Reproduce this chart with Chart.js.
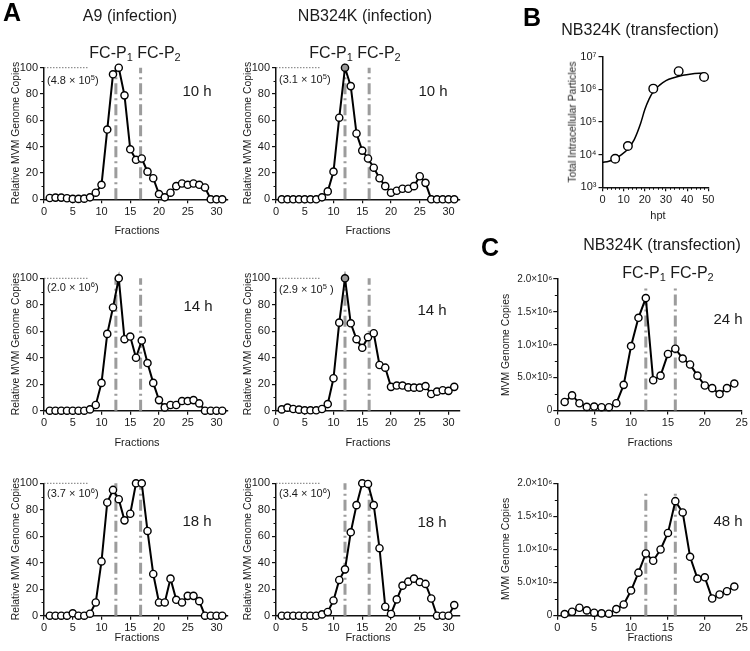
<!DOCTYPE html>
<html>
<head>
<meta charset="utf-8">
<script src="https://cdn.jsdelivr.net/npm/chart.js@4.4.1/dist/chart.umd.min.js"></script>
<style>
  body { margin: 0; background: #fff; }
  #fig { position: relative; width: 750px; height: 651px; overflow: hidden;
         font-family: 'Liberation Sans', Arial, sans-serif; color: #1a1a1a; }
  #fig canvas { position: absolute; left: 0; top: 0; }
  .t { position: absolute; white-space: nowrap; transform: translate(-50%, -50%); line-height: 1; }
  .l { position: absolute; white-space: nowrap; transform: translate(0, -50%); line-height: 1; font-size: 11px; }
  .yt { font-size: 10.4px; transform: translate(-50%, -50%) rotate(-90deg); }
  .title { font-size: 16px; }
  .fc { font-size: 16px; }
  .hr { font-size: 15px; }
  .xt { font-size: 11px; }
  .letter { font-size: 25px; font-weight: bold; color: #000; }
  sub { font-size: 11px; vertical-align: -3px; line-height: 0; }
  sup { font-size: 7.5px; vertical-align: 4px; line-height: 0; }
</style>
</head>
<body>
<div id="fig">
  <canvas id="a1" width="750" height="651"></canvas>
  <canvas id="a2" width="750" height="651"></canvas>
  <canvas id="a3" width="750" height="651"></canvas>
  <canvas id="a4" width="750" height="651"></canvas>
  <canvas id="a5" width="750" height="651"></canvas>
  <canvas id="a6" width="750" height="651"></canvas>
  <canvas id="b1" width="750" height="651"></canvas>
  <canvas id="c1" width="750" height="651"></canvas>
  <canvas id="c2" width="750" height="651"></canvas>

  <div class="t letter" style="left:12px;top:12px">A</div>
  <div class="t letter" style="left:532px;top:17px">B</div>
  <div class="t letter" style="left:490px;top:247px">C</div>

  <div class="t title" style="left:130px;top:16px">A9 (infection)</div>
  <div class="t title" style="left:365px;top:16px">NB324K (infection)</div>
  <div class="t title" style="left:640px;top:30px">NB324K (transfection)</div>
  <div class="t title" style="left:662px;top:245px">NB324K (transfection)</div>

  <div class="t fc" style="left:135px;top:53px">FC-P<sub>1</sub> FC-P<sub>2</sub></div>
  <div class="t fc" style="left:355px;top:53px">FC-P<sub>1</sub> FC-P<sub>2</sub></div>
  <div class="t fc" style="left:668px;top:273px">FC-P<sub>1</sub> FC-P<sub>2</sub></div>

  <div class="t hr" style="left:197px;top:90px">10 h</div>
  <div class="t hr" style="left:433px;top:90px">10 h</div>
  <div class="t hr" style="left:198px;top:305px">14 h</div>
  <div class="t hr" style="left:432px;top:309px">14 h</div>
  <div class="t hr" style="left:197px;top:520px">18 h</div>
  <div class="t hr" style="left:432px;top:521px">18 h</div>
  <div class="t hr" style="left:728px;top:318px">24 h</div>
  <div class="t hr" style="left:728px;top:520px">48 h</div>

  <div class="l" style="left:47px;top:80px">(4.8 × 10<sup>5</sup>)</div>
  <div class="l" style="left:279px;top:79px">(3.1 × 10<sup>5</sup>)</div>
  <div class="l" style="left:47px;top:287px">(2.0 × 10<sup>6</sup>)</div>
  <div class="l" style="left:279px;top:289px">(2.9 × 10<sup>5</sup> )</div>
  <div class="l" style="left:47px;top:493px">(3.7 × 10<sup>6</sup>)</div>
  <div class="l" style="left:279px;top:493px">(3.4 × 10<sup>6</sup>)</div>

  <div class="t yt" style="left:16px;top:133px">Relative MVM Genome Copies</div>
  <div class="t yt" style="left:248px;top:133px">Relative MVM Genome Copies</div>
  <div class="t yt" style="left:16px;top:344px">Relative MVM Genome Copies</div>
  <div class="t yt" style="left:248px;top:344px">Relative MVM Genome Copies</div>
  <div class="t yt" style="left:16px;top:549px">Relative MVM Genome Copies</div>
  <div class="t yt" style="left:248px;top:549px">Relative MVM Genome Copies</div>
  <div class="t yt" style="left:573px;top:122px">Total Intracellular Particles</div>
  <div class="t yt" style="left:506px;top:345px">MVM Genome Copies</div>
  <div class="t yt" style="left:506px;top:549px">MVM Genome Copies</div>

  <div class="t xt" style="left:137px;top:230px">Fractions</div>
  <div class="t xt" style="left:368px;top:230px">Fractions</div>
  <div class="t xt" style="left:137px;top:442px">Fractions</div>
  <div class="t xt" style="left:368px;top:442px">Fractions</div>
  <div class="t xt" style="left:137px;top:637px">Fractions</div>
  <div class="t xt" style="left:368px;top:637px">Fractions</div>
  <div class="t xt" style="left:658px;top:215px">hpt</div>
  <div class="t xt" style="left:650px;top:442px">Fractions</div>
  <div class="t xt" style="left:650px;top:637px">Fractions</div>
</div>

<script>
'use strict';

// ---- data ----
const fractions = [1, 2, 3, 4, 5, 6, 7, 8, 9, 10, 11, 12, 13, 14, 15, 16, 17, 18, 19, 20,
                   21, 22, 23, 24, 25, 26, 27, 28, 29, 30, 31];
const a9_10h  = [1, 1.3, 1.3, 0.8, 0.3, 0.3, 0.5, 1.5, 5, 11, 53, 95, 100, 79, 38, 30, 31, 21, 16, 4,
                 1.5, 5, 10, 12, 11, 12, 11, 9, 0, 0, 0];
const nb_10h  = [0, 0, 0, 0, 0, 0, 0, 1.5, 6, 21, 62, 100, 86, 50, 37, 31, 24, 16, 10, 5,
                 6.5, 8, 8, 10, 17.5, 12.5, 0, 0, 0, 0, 0];
const a9_14h  = [0, 0, 0, 0, 0, 0, 0, 1, 4.3, 21, 58, 78, 100, 54, 56, 40, 53, 36, 21, 8,
                 2.5, 4.3, 4.3, 7.3, 7.3, 8, 5.5, 0, 0, 0, 0];
const nb_14h  = [1, 2.3, 1.3, 0.8, 0.3, 0.3, 0.3, 1.3, 5, 24.5, 66.5, 100, 66, 54, 47.5, 55.5, 58.5, 34.5, 32.5, 18,
                 19, 19, 17.6, 17.4, 17.4, 18.6, 12.6, 14.4, 15.5, 15, 18];
const a9_18h  = [0, 0, 0, 0, 1.8, 0, 0, 1.5, 10, 41, 85.5, 95, 88, 72, 77, 100, 100, 64, 31.5, 10,
                 10, 28, 12, 10, 15, 15, 11, 0, 0, 0, 0];
const nb_18h  = [0, 0, 0, 0, 0, 0, 0, 1, 2.8, 11.5, 27, 35, 63, 83.5, 100, 99.5, 83.5, 51, 6.8, 1.3,
                 12.3, 22.7, 25.7, 28, 25.4, 24, 13, 0, 0, 0, 8];
const a9Peaks = [12.5, 16.8];     // FC-P1, FC-P2 fraction marks (A9)
const nbPeaks = [12, 16.2];       // FC-P1, FC-P2 fraction marks (NB324K)
const relTicks = [0, 20, 40, 60, 80, 100];
const relMinor = [10, 30, 50, 70, 90];
const fracTicks = [0, 5, 10, 15, 20, 25, 30];

const hptMeasured = [6, 12, 24, 36, 48];
const particles = [7.5e3, 1.84e4, 1.05e6, 3.6e6, 2.4e6];
const hptFit = [0, 3, 6, 9, 12, 15, 18, 20, 22, 24, 27, 30, 34, 38, 42, 46, 48];
const particlesFit = [5.8e3, 6.3e3, 7.5e3, 1.0e4, 1.5e4, 2.9e4, 9e4, 2.4e5, 5e5, 8.5e5,
                      1.35e6, 1.85e6, 2.3e6, 2.7e6, 2.95e6, 3.1e6, 3.15e6];
const hptTicks = [0, 10, 20, 30, 40, 50];
const hptMinor = [2, 4, 6, 8, 12, 14, 16, 18, 22, 24, 26, 28, 32, 34, 36, 38, 42, 44, 46, 48];
const logTicks = [1e3, 1e4, 1e5, 1e6, 1e7];

const tfFractions = [1, 2, 3, 4, 5, 6, 7, 8, 9, 10, 11, 12, 13, 14, 15, 16, 17, 18, 19, 20, 21, 22, 23, 24];
const copies24h = [0.13e6, 0.23e6, 0.11e6, 0.055e6, 0.06e6, 0.05e6, 0.05e6, 0.11e6, 0.39e6, 0.98e6,
                   1.41e6, 1.71e6, 0.46e6, 0.53e6, 0.86e6, 0.94e6, 0.79e6, 0.70e6, 0.53e6, 0.38e6,
                   0.34e6, 0.25e6, 0.34e6, 0.41e6];
const copies48h = [0.025e6, 0.06e6, 0.12e6, 0.08e6, 0.045e6, 0.035e6, 0.03e6, 0.10e6, 0.17e6, 0.38e6,
                   0.65e6, 0.94e6, 0.83e6, 1.0e6, 1.25e6, 1.73e6, 1.56e6, 0.89e6, 0.56e6, 0.58e6,
                   0.26e6, 0.32e6, 0.37e6, 0.44e6];
const tfPeaks = [12, 16];
const copyTicks = [0, 5e5, 1e6, 1.5e6, 2e6];
const copyMinor = [2.5e5, 7.5e5, 1.25e6, 1.75e6];
const tfFracTicks = [0, 5, 10, 15, 20, 25];

// ---- styling / layout ----
const W = 750, H = 651;
const Y_AXIS_W = 40, X_AXIS_H = 24;
const INK = '#111';
const GUIDE = '#9c9c9c';

Chart.defaults.font.family = "'Liberation Sans', Arial, sans-serif";
Chart.defaults.font.size = 11;
Chart.defaults.color = '#1a1a1a';

const SUP = { 3: '\u00b3', 4: '\u2074', 5: '\u2075', 6: '\u2076', 7: '\u2077' };

// short outward ticks between the labelled ones
const minorTicks = {
  id: 'minorTicks',
  afterDraw(chart, args, opts) {
    const { ctx, chartArea, scales } = chart;
    ctx.save();
    ctx.strokeStyle = INK;
    ctx.lineWidth = 1;
    (opts.y || []).forEach(v => {
      const py = Math.round(scales.y.getPixelForValue(v)) + 0.5;
      ctx.beginPath(); ctx.moveTo(chartArea.left - 2.5, py); ctx.lineTo(chartArea.left, py); ctx.stroke();
    });
    (opts.x || []).forEach(v => {
      const px = Math.round(scales.x.getPixelForValue(v)) + 0.5;
      ctx.beginPath(); ctx.moveTo(px, chartArea.bottom); ctx.lineTo(px, chartArea.bottom + 2.5); ctx.stroke();
    });
    ctx.restore();
  }
};

function axis(type, min, max, tickList, extra) {
  return Object.assign({
    type, min, max,
    afterBuildTicks: s => { s.ticks = tickList.map(value => ({ value })); },
    grid: { drawOnChartArea: false, drawTicks: true, tickLength: 4, color: INK, lineWidth: 1.2 },
    border: { display: true, color: INK, width: 1.5 },
    ticks: { padding: 2, maxRotation: 0, autoSkip: false }
  }, extra);
}

function makeChart(id, area, datasets, xScale, yScale, minor) {
  xScale.afterFit = s => { s.height = X_AXIS_H; };
  yScale.afterFit = s => { s.width = Y_AXIS_W; };
  return new Chart(document.getElementById(id), {
    type: 'line',
    data: { datasets },
    options: {
      responsive: false,
      animation: false,
      events: [],
      layout: { padding: { left: area.l - Y_AXIS_W, top: area.t, right: W - area.r, bottom: H - area.b - X_AXIS_H } },
      plugins: { legend: { display: false }, tooltip: { enabled: false }, minorTicks: minor },
      scales: { x: xScale, y: yScale }
    },
    plugins: [minorTicks]
  });
}

function profile(xs, values, filled) {
  return {
    data: xs.map((f, i) => ({ x: f, y: values[i] })),
    borderColor: '#000', borderWidth: 2, tension: 0,
    pointRadius: 3.6, pointBorderWidth: 1.4, pointBorderColor: '#000',
    pointBackgroundColor: xs.map(f => (filled || []).includes(f) ? '#9a9a9a' : '#fff'),
    clip: false
  };
}

function guide(xv, top) {
  return {
    data: [{ x: xv, y: 0 }, { x: xv, y: top }],
    borderColor: GUIDE, borderWidth: 3, borderDash: [11, 4, 2, 4],
    pointRadius: 0, clip: false
  };
}

function topRef(len, top) {
  return {
    data: [{ x: 0, y: top }, { x: len, y: top }],
    borderColor: '#777', borderWidth: 1, borderDash: [1.5, 1.5],
    pointRadius: 0, clip: false
  };
}

// ---- panel A: relative genome copies per fraction ----
const colL = [44, 276];
const colR = [228, 460];
const rowT = [67.7, 278.3, 483.3];
const rowB = [199.3, 410.7, 615.7];

const panelsA = [
  { id: 'a1', col: 0, row: 0, values: a9_10h, peaks: a9Peaks, filled: [] },
  { id: 'a2', col: 1, row: 0, values: nb_10h, peaks: nbPeaks, filled: [12] },
  { id: 'a3', col: 0, row: 1, values: a9_14h, peaks: a9Peaks, filled: [] },
  { id: 'a4', col: 1, row: 1, values: nb_14h, peaks: nbPeaks, filled: [12] },
  { id: 'a5', col: 0, row: 2, values: a9_18h, peaks: a9Peaks, filled: [] },
  { id: 'a6', col: 1, row: 2, values: nb_18h, peaks: nbPeaks, filled: [] }
];

panelsA.forEach(p => {
  const area = { l: colL[p.col], r: colR[p.col], t: rowT[p.row], b: rowB[p.row] };
  makeChart(p.id, area,
    [profile(fractions, p.values, p.filled), guide(p.peaks[0], 100), guide(p.peaks[1], 100), topRef(7.6, 100)],
    axis('linear', 0, 32, fracTicks),
    axis('linear', 0, 100, relTicks),
    { y: relMinor });
});

// ---- panel B: total intracellular particles ----
makeChart('b1', { l: 602.5, r: 708.3, t: 56.7, b: 187.3 },
  [
    {
      data: hptMeasured.map((h, i) => ({ x: h, y: particles[i] })),
      showLine: false, pointRadius: 4.3, pointBorderWidth: 1.4,
      pointBorderColor: '#000', pointBackgroundColor: '#fff', clip: false
    },
    {
      data: hptFit.map((h, i) => ({ x: h, y: particlesFit[i] })),
      borderColor: '#000', borderWidth: 1.5, pointRadius: 0,
      cubicInterpolationMode: 'monotone', clip: false
    }
  ],
  axis('linear', 0, 50, hptTicks),
  axis('logarithmic', 1e3, 1e7, logTicks, {
    ticks: { padding: 2, autoSkip: false, callback: v => '10' + SUP[Math.round(Math.log10(v))] }
  }),
  { x: hptMinor });

// ---- panel C: genome copies after transfection ----
function copyLabel(v) {
  if (v === 0) return '0';
  const e = Math.floor(Math.log10(v));
  return (v / Math.pow(10, e)).toFixed(1) + '×10' + SUP[e];
}

[
  { id: 'c1', t: 279, b: 410.5, values: copies24h },
  { id: 'c2', t: 483.3, b: 615.7, values: copies48h }
].forEach(p => {
  makeChart(p.id, { l: 557.3, r: 741.7, t: p.t, b: p.b },
    [profile(tfFractions, p.values, []), guide(tfPeaks[0], 1.9e6), guide(tfPeaks[1], 1.9e6)],
    axis('linear', 0, 25, tfFracTicks),
    axis('linear', 0, 2e6, copyTicks, {
      ticks: { padding: 1, autoSkip: false, font: { size: 10 }, callback: copyLabel }
    }),
    { y: copyMinor });
});
</script>
</body>
</html>
